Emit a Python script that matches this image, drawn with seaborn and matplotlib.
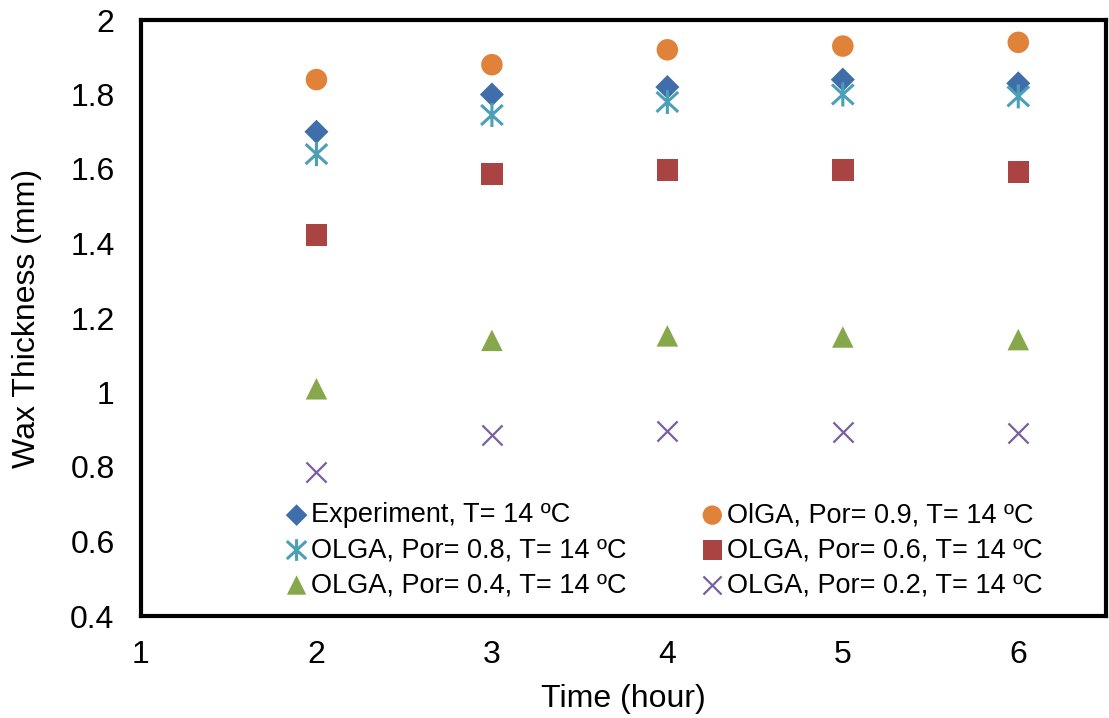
import matplotlib
matplotlib.use("Agg")
import matplotlib.pyplot as plt
from matplotlib.path import Path
import seaborn as sns
import pandas as pd

time_h = [2, 3, 4, 5, 6]
experiment = [1.70, 1.80, 1.82, 1.84, 1.83]
olga_por09 = [1.84, 1.88, 1.92, 1.93, 1.94]
olga_por08 = [1.64, 1.745, 1.78, 1.80, 1.795]
olga_por06 = [1.423, 1.587, 1.597, 1.597, 1.592]
olga_por04 = [1.01, 1.14, 1.152, 1.149, 1.142]
olga_por02 = [0.787, 0.886, 0.897, 0.894, 0.891]

labels = [
    "Experiment, T= 14 ºC",
    "OlGA, Por= 0.9, T= 14 ºC",
    "OLGA, Por= 0.8, T= 14 ºC",
    "OLGA, Por= 0.6, T= 14 ºC",
    "OLGA, Por= 0.4, T= 14 ºC",
    "OLGA, Por= 0.2, T= 14 ºC",
]
series = [experiment, olga_por09, olga_por08, olga_por06, olga_por04, olga_por02]

# Asterisk: an "x" with a vertical stroke through it
star_path = Path(
    [(0, -1), (0, 1), (-0.9, -0.83), (0.9, 0.83), (-0.9, 0.83), (0.9, -0.83)],
    [Path.MOVETO, Path.LINETO, Path.MOVETO, Path.LINETO, Path.MOVETO, Path.LINETO],
)

styles = [
    dict(marker="D", color="#3F6EAA", s=150, kind="filled"),
    dict(marker="o", color="#E0823A", s=240, kind="filled"),
    dict(marker=star_path, color="#4BA0B8", s=300, kind="path", lw=2.2),
    dict(marker="s", color="#A94442", s=240, kind="filled"),
    dict(marker="^", color="#86A84A", s=240, kind="filled"),
    dict(marker="x", color="#7A5FA0", s=210, kind="line", lw=1.6),
]

sns.set_theme(style="white")
plt.rcParams["font.family"] = ["Liberation Sans", "DejaVu Sans"]
plt.rcParams["text.color"] = "black"
plt.rcParams["axes.labelcolor"] = "black"
plt.rcParams["xtick.color"] = "black"
plt.rcParams["ytick.color"] = "black"

fig = plt.figure(figsize=(11.09, 7.18), dpi=100)
ax = fig.add_axes([141 / 1109, 1 - 616 / 718, (1106 - 141) / 1109, (616 - 20) / 718])

for lab, vals, st in zip(labels, series, styles):
    df = pd.DataFrame({"Time": time_h, "Wax": vals})
    if st["kind"] == "path":
        sns.scatterplot(data=df, x="Time", y="Wax", ax=ax, label=lab,
                        marker=st["marker"], s=st["s"], color=st["color"],
                        edgecolor=st["color"], facecolor="none",
                        linewidths=st["lw"])
    elif st["kind"] == "line":
        sns.scatterplot(data=df, x="Time", y="Wax", ax=ax, label=lab,
                        marker=st["marker"], s=st["s"], color=st["color"],
                        linewidths=st["lw"])
    else:
        sns.scatterplot(data=df, x="Time", y="Wax", ax=ax, label=lab,
                        marker=st["marker"], s=st["s"], color=st["color"],
                        edgecolor="none")

ax.set_xlim(1, 6.5)
ax.set_ylim(0.4, 2.0)
ax.set_xticks([1, 2, 3, 4, 5, 6])
ax.set_xticklabels(["1", "2", "3", "4", "5", "6"])
ax.set_yticks([0.4, 0.6, 0.8, 1.0, 1.2, 1.4, 1.6, 1.8, 2.0])
ax.set_yticklabels(["0.4", "0.6", "0.8", "1", "1.2", "1.4", "1.6", "1.8", "2"])
ax.set_xlabel("Time (hour)", fontsize=23, labelpad=10)
ax.set_ylabel("Wax Thickness (mm)", fontsize=23, labelpad=20)
ax.tick_params(axis="both", labelsize=23, direction="out", length=7,
               width=1.5, color="#999999", labelcolor="black")
ax.tick_params(axis="x", pad=10)
ax.tick_params(axis="y", pad=12)

for sp in ax.spines.values():
    sp.set_visible(True)
    sp.set_color("black")
    sp.set_linewidth(3)

# Legend laid out row-wise in two columns
handles, hl = ax.get_legend_handles_labels()
order = [0, 2, 4, 1, 3, 5]
leg = ax.legend([handles[i] for i in order], [hl[i] for i in order],
                ncol=2, loc="lower left", bbox_to_anchor=(0.150, 0.03),
                frameon=False, fontsize=19.5, handletextpad=0.15,
                handlelength=0.8, columnspacing=2.75, labelspacing=0.33,
                markerscale=0.9, borderaxespad=0.0, borderpad=0.0)

fig.savefig("out.png", dpi=100)
